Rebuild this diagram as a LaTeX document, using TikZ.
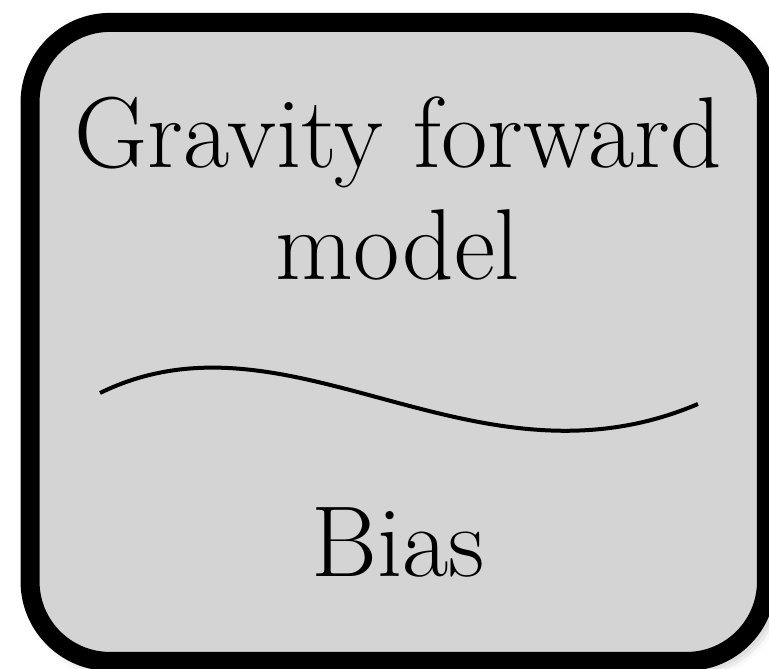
\documentclass[tikz,border=0pt]{standalone}
\usepackage{tikz}
\usetikzlibrary{positioning,shadows.blur}
\definecolor{boxgray}{RGB}{212,212,212}

\begin{document}
\begin{tikzpicture}[
  blockbox/.style={draw, line width=4.75pt, rounded corners=20pt, fill=boxgray,
    blur shadow={shadow xshift=1.5pt, shadow yshift=-1.5pt, shadow blur radius=3pt}},
  every node/.style={font=\fontsize{25.2}{28}\selectfont}]
\useasboundingbox (0,0) rectangle (6.757,5.878);
% Blocco del modello
\draw[blockbox] (0.264,0.066) rectangle (6.735,5.681);
\node[align=center, anchor=base] (fwd) at (3.497,3.418) {Gravity forward\\model};
% Separatore ondulato
\draw[line width=1pt] (0.879,2.425) .. controls (2.55,3.242) and (4.15,1.485) .. (6.133,2.328);
\node[anchor=base] (bias) at (3.50,0.808) {Bias};
\end{tikzpicture}
\end{document}
